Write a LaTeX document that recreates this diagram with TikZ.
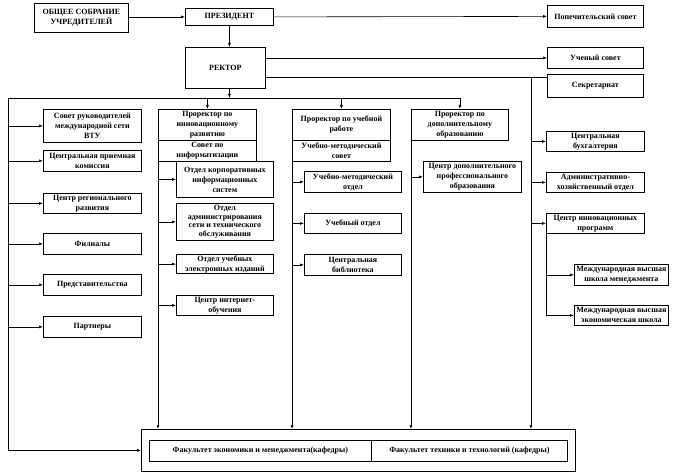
\documentclass[tikz,border=0pt]{standalone}
\usepackage{fontspec}
\setmainfont{Liberation Serif}
\usepackage{tikz}
\usetikzlibrary{arrows.meta,calc}

\tikzset{
    unit/.style={draw, line width=0.8pt, align=center, inner sep=1pt, anchor=north west,
        font=\bfseries\fontsize{8}{10}\selectfont},
    conn/.style={line width=0.6pt},
    arr/.style={conn, -{Latex[length=4pt,width=3pt]}}
}

\begin{document}
\begin{tikzpicture}[x=1pt, y=-1pt]

    \useasboundingbox (0,0) rectangle (674,473);

% Top of the structure
\node[unit, minimum width=94, minimum height=29] (osu) at (34,3) {ОБЩЕЕ СОБРАНИЕ\\УЧРЕДИТЕЛЕЙ};
\node[unit, minimum width=88, minimum height=17] (prez) at (185,8) {ПРЕЗИДЕНТ};
\node[unit, minimum width=96, minimum height=22] (pop) at (547,5) {Попечительский совет};
\node[unit, minimum width=80, minimum height=41] (rect) at (185,47) {РЕКТОР};
\node[unit, minimum width=96, minimum height=21] (uch) at (547,47) {Ученый совет};
\node[unit, minimum width=96, minimum height=23] (sek) at (547,74) {Секретариат};

% Left column
\node[unit, minimum width=98, minimum height=33, inner ysep=0pt] (cbr) at (43,109) {Совет руководителей\\международной сети\\ВТУ};
\node[unit, minimum width=98, minimum height=21] (cpk) at (43,150) {Центральная приемная\\комиссия};
\node[unit, minimum width=98, minimum height=20] (crr) at (43,193) {Центр регионального\\развития};
\node[unit, minimum width=98, minimum height=21] (fil) at (43,233) {Филиалы};
\node[unit, minimum width=98, minimum height=21] (pred) at (43,274) {Представительства};
\node[unit, minimum width=98, minimum height=21] (part) at (43,316) {Партнеры};

% Innovation column
\node[unit, minimum width=98, minimum height=31, inner ysep=0pt] (prin) at (158,109) {Проректор по\\инновационному\\развитию};
\node[unit, minimum width=98, minimum height=21] (sovinf) at (158,140) {Совет по\\информатизации};
\node[unit, minimum width=97, minimum height=36, fill=white, inner ysep=0pt] (okis) at (176,161) {Отдел корпоративных\\информационных\\систем};
\node[unit, minimum width=97, minimum height=37, inner ysep=0pt,
    font=\bfseries\fontsize{8}{8.6}\selectfont] (oasto) at (176,203) {Отдел\\администрирования\\сети и технического\\обслуживания};
\node[unit, minimum width=97, minimum height=19] (ouei) at (176,254) {Отдел учебных\\электронных изданий};
\node[unit, minimum width=97, minimum height=20] (cio) at (176,295) {Центр интернет-\\обучения};

% Educational column
\node[unit, minimum width=98, minimum height=31] (prub) at (292,109) {Проректор по учебной\\работе};
\node[unit, minimum width=98, minimum height=21] (ums) at (292,140) {Учебно-методический\\совет};
\node[unit, minimum width=97, minimum height=21] (umo) at (304,171) {Учебно-методический\\отдел};
\node[unit, minimum width=97, minimum height=20] (uo) at (304,213) {Учебный отдел};
\node[unit, minimum width=97, minimum height=21] (cb) at (304,254) {Центральная\\библиотека};

% Additional education column
\node[unit, minimum width=97, minimum height=31, inner ysep=0pt] (prdop) at (411,109) {Проректор по\\дополнительному\\образованию};
\node[unit, minimum width=98, minimum height=31, inner ysep=0pt] (cdpo) at (423,161) {Центр дополнительного\\профессионального\\образования};

% Right column
\node[unit, minimum width=98, minimum height=20] (cbuh) at (546,131) {Центральная\\бухгалтерия};
\node[unit, minimum width=98, minimum height=20] (aho) at (546,172) {Административно-\\хозяйственный отдел};
\node[unit, minimum width=98, minimum height=20] (cip) at (546,213) {Центр инновационных\\программ};
\node[unit, minimum width=94, minimum height=21] (mvsm) at (574,264) {Международная высшая\\школа менеджмента};
\node[unit, minimum width=94, minimum height=20] (mvse) at (574,305) {Международная высшая\\экономическая школа};

% Faculties
\node[unit, minimum width=434, minimum height=42] (fac) at (141,429) {};
\node[unit, minimum width=222, minimum height=21] (fem) at (149,440) {Факультет экономики и менеджмента(кафедры)};
\node[unit, minimum width=196, minimum height=21] (ftt) at (371,440) {Факультет техники и технологий (кафедры)};

\coordinate (htop) at (8,98);
\coordinate (hend) at (460,98);
\coordinate (rtrunk) at (531,77);

% Upper connectors
\draw[arr] (osu.east |- prez.west) -- (prez.west);
\draw[arr] (prez.east) -- (pop.west);
\draw[arr] (prez.south) -- (prez.south |- rect.north);
\draw[arr] (rect.east |- uch.west) -- (uch.west);
\draw[conn] (rect.east |- rtrunk) -- (sek.west |- rtrunk);
\draw[arr] (prez.south |- rect.south) -- (prez.south |- htop);

% Main horizontal line and left trunk
\draw[conn] (hend) -- (htop);
\draw[arr] (htop) -- (htop |- fac.west) -- (fac.west);
\foreach \n in {prin, prub, prdop} {
    \draw[arr] (\n.north |- htop) -- (\n.north);
}
\foreach \n in {cbr, cpk, crr, fil, pred, part} {
    \draw[arr] (htop |- \n.west) -- (\n.west);
}

% Column trunks
\draw[arr] (sovinf.south west) -- (sovinf.south west |- fac.north);
\foreach \n in {okis, oasto, ouei, cio} {
    \draw[arr] (sovinf.south west |- \n.west) -- (\n.west);
}
\draw[arr] (ums.south west) -- (ums.south west |- fac.north);
\foreach \n in {umo, uo, cb} {
    \draw[arr] (ums.south west |- \n.west) -- (\n.west);
}
\draw[arr] (prdop.south west) -- (prdop.south west |- fac.north);
\draw[arr] (prdop.south west |- cdpo.west) -- (cdpo.west);

% Right trunk
\draw[arr] (rtrunk) -- (rtrunk |- fac.north);
\foreach \n in {cbuh, aho, cip} {
    \draw[arr] (rtrunk |- \n.west) -- (\n.west);
}
\draw[conn] (cip.south west) -- (cip.south west |- mvse.west);
\foreach \n in {mvsm, mvse} {
    \draw[arr] (cip.south west |- \n.west) -- (\n.west);
}

\end{tikzpicture}
\end{document}
